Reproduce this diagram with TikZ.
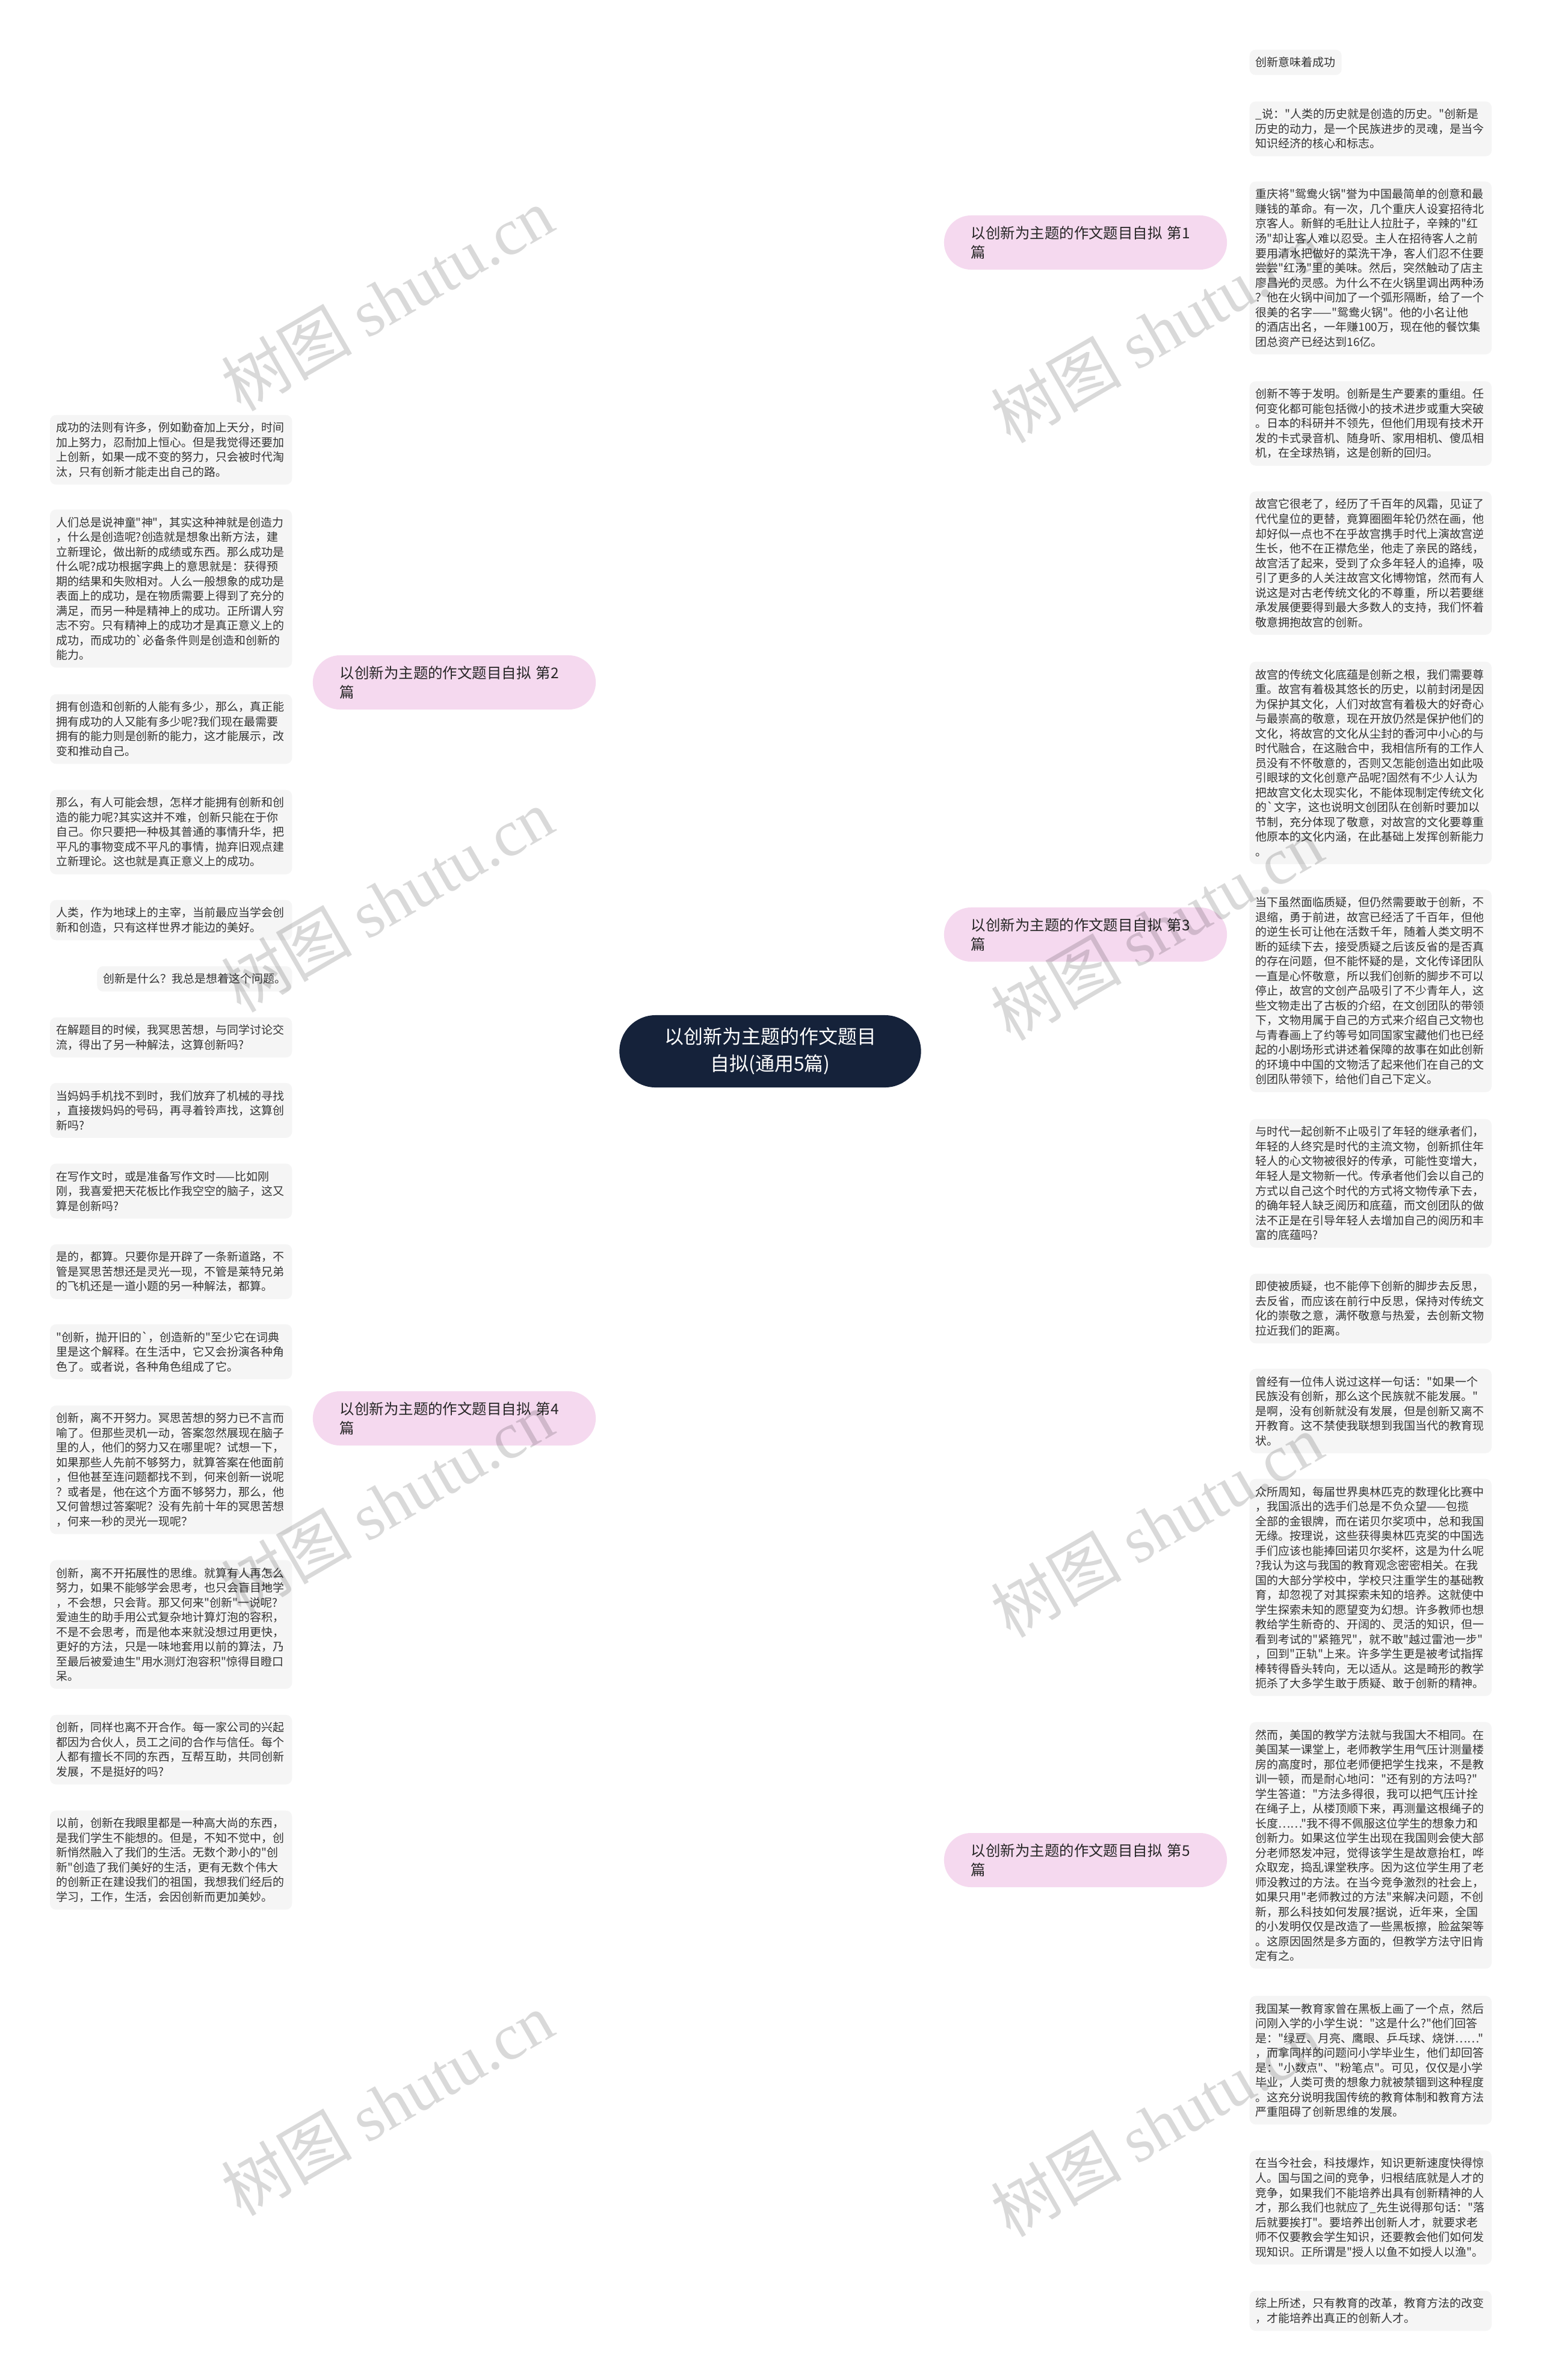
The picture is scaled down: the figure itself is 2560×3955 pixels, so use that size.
\documentclass[tikz,border=0pt]{standalone}
\usepackage{fontspec}
\newfontfamily\cjk{Noto Sans CJK SC}
\newfontfamily\wmserif{Liberation Serif}
\usetikzlibrary{backgrounds}

\definecolor{rootfill}{HTML}{15223A}
\definecolor{topicfill}{HTML}{F5D9EF}
\definecolor{leaffill}{HTML}{F5F5F5}
\definecolor{leaftext}{HTML}{333333}
\definecolor{linkcol}{HTML}{1B2638}

\tikzset{
  rootnode/.style={fill=rootfill, text=white, rounded corners=0.6cm, minimum width=5.01cm,
    minimum height=1.2cm, align=center, font=\cjk\fontsize{9.1pt}{12.8pt}\selectfont},
  topic/.style={fill=topicfill, text=black!85, rounded corners=0.45cm, text width=3.8cm,
    inner xsep=0.45cm, inner ysep=0pt, minimum height=0.9cm, align=left,
    font=\cjk\fontsize{6.95pt}{9.1pt}\selectfont},
  leaf/.style={fill=leaffill, text=leaftext, rounded corners=0.1cm, inner xsep=0.1cm,
    inner ysep=0pt, align=left, minimum height={0.245cm*#1+0.175cm},
    font=\cjk\fontsize{5.4pt}{6.97pt}\selectfont},
  leafw/.style={leaf=#1, text width=3.82cm},
  trunk/.style={draw=linkcol, line width=0.85pt},
  twig/.style={draw=linkcol, line width=0.7pt},
  wmark/.style={text=black, text opacity=0.15, rotate=30, font=\cjk\fontsize{31pt}{31pt}\selectfont},
}

\begin{document}
\begin{tikzpicture}[x=0.01cm, y=-0.01cm]
  \fill[white] (0,0) rectangle (2560,3955);
  \useasboundingbox (0,0) rectangle (2560,3955);

  % centre and the five topics
  \node[rootnode] (root) at (1280,1747) {以创新为主题的作文题目\\自拟(通用5篇)};
  \node[topic] (b1) at (1804,403) {以创新为主题的作文题目自拟 第1\\篇};
  \node[topic] (b2) at (755,1134) {以创新为主题的作文题目自拟 第2\\篇};
  \node[topic] (b3) at (1804,1553) {以创新为主题的作文题目自拟 第3\\篇};
  \node[topic] (b4) at (755,2357) {以创新为主题的作文题目自拟 第4\\篇};
  \node[topic] (b5) at (1804,3091) {以创新为主题的作文题目自拟 第5\\篇};

  % right column
  \node[leaf=1, anchor=north west] (r1) at (2076,82) {创新意味着成功};
  \node[leafw=3, anchor=north west] (r2) at (2076,168) {\_说："人类的历史就是创造的历史。"创新是\\
历史的动力，是一个民族进步的灵魂，是当今\\
知识经济的核心和标志。};
  \node[leafw=11, anchor=north west] (r3) at (2076,301) {重庆将"鸳鸯火锅"誉为中国最简单的创意和最\\
赚钱的革命。有一次，几个重庆人设宴招待北\\
京客人。新鲜的毛肚让人拉肚子，辛辣的"红\\
汤"却让客人难以忍受。主人在招待客人之前\\
要用清水把做好的菜洗干净，客人们忍不住要\\
尝尝"红汤"里的美味。然后，突然触动了店主\\
廖昌光的灵感。为什么不在火锅里调出两种汤\\
？他在火锅中间加了一个弧形隔断，给了一个\\
很美的名字——"鸳鸯火锅"。他的小名让他\\
的酒店出名，一年赚100万，现在他的餐饮集\\
团总资产已经达到16亿。};
  \node[leafw=5, anchor=north west] (r4) at (2076,633) {创新不等于发明。创新是生产要素的重组。任\\
何变化都可能包括微小的技术进步或重大突破\\
。日本的科研并不领先，但他们用现有技术开\\
发的卡式录音机、随身听、家用相机、傻瓜相\\
机，在全球热销，这是创新的回归。};
  \node[leafw=9, anchor=north west] (r5) at (2076,816) {故宫它很老了，经历了千百年的风霜，见证了\\
代代皇位的更替，竟算圈圈年轮仍然在画，他\\
却好似一点也不在乎故宫携手时代上演故宫逆\\
生长，他不在正襟危坐，他走了亲民的路线，\\
故宫活了起来，受到了众多年轻人的追捧，吸\\
引了更多的人关注故宫文化博物馆，然而有人\\
说这是对古老传统文化的不尊重，所以若要继\\
承发展便要得到最大多数人的支持，我们怀着\\
敬意拥抱故宫的创新。};
  \node[leafw=13, anchor=north west] (r6) at (2076,1099) {故宫的传统文化底蕴是创新之根，我们需要尊\\
重。故宫有着极其悠长的历史，以前封闭是因\\
为保护其文化，人们对故宫有着极大的好奇心\\
与最崇高的敬意，现在开放仍然是保护他们的\\
文化，将故宫的文化从尘封的香河中小心的与\\
时代融合，在这融合中，我相信所有的工作人\\
员没有不怀敬意的，否则又怎能创造出如此吸\\
引眼球的文化创意产品呢?固然有不少人认为\\
把故宫文化太现实化，不能体现制定传统文化\\
的`文字，这也说明文创团队在创新时要加以\\
节制，充分体现了敬意，对故宫的文化要尊重\\
他原本的文化内涵，在此基础上发挥创新能力\\
。};
  \node[leafw=13, anchor=north west] (r7) at (2076,1478) {当下虽然面临质疑，但仍然需要敢于创新，不\\
退缩，勇于前进，故宫已经活了千百年，但他\\
的逆生长可让他在活数千年，随着人类文明不\\
断的延续下去，接受质疑之后该反省的是否真\\
的存在问题，但不能怀疑的是，文化传译团队\\
一直是心怀敬意，所以我们创新的脚步不可以\\
停止，故宫的文创产品吸引了不少青年人，这\\
些文物走出了古板的介绍，在文创团队的带领\\
下，文物用属于自己的方式来介绍自己文物也\\
与青春画上了约等号如同国家宝藏他们也已经\\
起的小剧场形式讲述着保障的故事在如此创新\\
的环境中中国的文物活了起来他们在自己的文\\
创团队带领下，给他们自己下定义。};
  \node[leafw=8, anchor=north west] (r8) at (2076,1859) {与时代一起创新不止吸引了年轻的继承者们，\\
年轻的人终究是时代的主流文物，创新抓住年\\
轻人的心文物被很好的传承，可能性变增大，\\
年轻人是文物新一代。传承者他们会以自己的\\
方式以自己这个时代的方式将文物传承下去，\\
的确年轻人缺乏阅历和底蕴，而文创团队的做\\
法不正是在引导年轻人去增加自己的阅历和丰\\
富的底蕴吗?};
  \node[leafw=4, anchor=north west] (r9) at (2076,2116) {即使被质疑，也不能停下创新的脚步去反思，\\
去反省，而应该在前行中反思，保持对传统文\\
化的崇敬之意，满怀敬意与热爱，去创新文物\\
拉近我们的距离。};
  \node[leafw=5, anchor=north west] (r10) at (2076,2274) {曾经有一位伟人说过这样一句话："如果一个\\
民族没有创新，那么这个民族就不能发展。"\\
是啊，没有创新就没有发展，但是创新又离不\\
开教育。这不禁使我联想到我国当代的教育现\\
状。};
  \node[leafw=14, anchor=north west] (r11) at (2076,2457) {众所周知，每届世界奥林匹克的数理化比赛中\\
，我国派出的选手们总是不负众望——包揽\\
全部的金银牌，而在诺贝尔奖项中，总和我国\\
无缘。按理说，这些获得奥林匹克奖的中国选\\
手们应该也能捧回诺贝尔奖杯，这是为什么呢\\
?我认为这与我国的教育观念密密相关。在我\\
国的大部分学校中，学校只注重学生的基础教\\
育，却忽视了对其探索未知的培养。这就使中\\
学生探索未知的愿望变为幻想。许多教师也想\\
教给学生新奇的、开阔的、灵活的知识，但一\\
看到考试的"紧箍咒"，就不敢"越过雷池一步"\\
，回到"正轨"上来。许多学生更是被考试指挥\\
棒转得昏头转向，无以适从。这是畸形的教学\\
扼杀了大多学生敢于质疑、敢于创新的精神。};
  \node[leafw=16, anchor=north west] (r12) at (2076,2861) {然而，美国的教学方法就与我国大不相同。在\\
美国某一课堂上，老师教学生用气压计测量楼\\
房的高度时，那位老师便把学生找来，不是教\\
训一顿，而是耐心地问："还有别的方法吗?"\\
学生答道："方法多得很，我可以把气压计拴\\
在绳子上，从楼顶顺下来，再测量这根绳子的\\
长度……"我不得不佩服这位学生的想象力和\\
创新力。如果这位学生出现在我国则会使大部\\
分老师怒发冲冠，觉得该学生是故意抬杠，哗\\
众取宠，捣乱课堂秩序。因为这位学生用了老\\
师没教过的方法。在当今竞争激烈的社会上，\\
如果只用"老师教过的方法"来解决问题，不创\\
新，那么科技如何发展?据说，近年来，全国\\
的小发明仅仅是改造了一些黑板擦，脸盆架等\\
。这原因固然是多方面的，但教学方法守旧肯\\
定有之。};
  \node[leafw=8, anchor=north west] (r13) at (2076,3316) {我国某一教育家曾在黑板上画了一个点，然后\\
问刚入学的小学生说："这是什么?"他们回答\\
是："绿豆、月亮、鹰眼、乒乓球、烧饼……"\\
，而拿同样的问题问小学毕业生，他们却回答\\
是："小数点"、"粉笔点"。可见，仅仅是小学\\
毕业，人类可贵的想象力就被禁锢到这种程度\\
。这充分说明我国传统的教育体制和教育方法\\
严重阻碍了创新思维的发展。};
  \node[leafw=7, anchor=north west] (r14) at (2076,3573) {在当今社会，科技爆炸，知识更新速度快得惊\\
人。国与国之间的竞争，归根结底就是人才的\\
竞争，如果我们不能培养出具有创新精神的人\\
才，那么我们也就应了\_先生说得那句话："落\\
后就要挨打"。要培养出创新人才，就要求老\\
师不仅要教会学生知识，还要教会他们如何发\\
现知识。正所谓是"授人以鱼不如授人以渔"。};
  \node[leafw=2, anchor=north west] (r15) at (2076,3806) {综上所述，只有教育的改革，教育方法的改变\\
，才能培养出真正的创新人才。};

  % left column
  \node[leafw=4, anchor=north east] (l1) at (486,689) {成功的法则有许多，例如勤奋加上天分，时间\\
加上努力，忍耐加上恒心。但是我觉得还要加\\
上创新，如果一成不变的努力，只会被时代淘\\
汰，只有创新才能走出自己的路。};
  \node[leafw=10, anchor=north east] (l2) at (486,846) {人们总是说神童"神"，其实这种神就是创造力\\
，什么是创造呢?创造就是想象出新方法，建\\
立新理论，做出新的成绩或东西。那么成功是\\
什么呢?成功根据字典上的意思就是：获得预\\
期的结果和失败相对。人么一般想象的成功是\\
表面上的成功，是在物质需要上得到了充分的\\
满足，而另一种是精神上的成功。正所谓人穷\\
志不穷。只有精神上的成功才是真正意义上的\\
成功，而成功的`必备条件则是创造和创新的\\
能力。};
  \node[leafw=4, anchor=north east] (l3) at (486,1153) {拥有创造和创新的人能有多少，那么，真正能\\
拥有成功的人又能有多少呢?我们现在最需要\\
拥有的能力则是创新的能力，这才能展示，改\\
变和推动自己。};
  \node[leafw=5, anchor=north east] (l4) at (486,1312) {那么，有人可能会想，怎样才能拥有创新和创\\
造的能力呢?其实这并不难，创新只能在于你\\
自己。你只要把一种极其普通的事情升华，把\\
平凡的事物变成不平凡的事情，抛弃旧观点建\\
立新理论。这也就是真正意义上的成功。};
  \node[leafw=2, anchor=north east] (l5) at (486,1495) {人类，作为地球上的主宰，当前最应当学会创\\
新和创造，只有这样世界才能边的美好。};
  \node[leaf=1, anchor=north east] (l6) at (486,1605) {创新是什么？我总是想着这个问题。};
  \node[leafw=2, anchor=north east] (l7) at (486,1690) {在解题目的时候，我冥思苦想，与同学讨论交\\
流，得出了另一种解法，这算创新吗?};
  \node[leafw=3, anchor=north east] (l8) at (486,1799) {当妈妈手机找不到时，我们放弃了机械的寻找\\
，直接拨妈妈的号码，再寻着铃声找，这算创\\
新吗?};
  \node[leafw=3, anchor=north east] (l9) at (486,1933) {在写作文时，或是准备写作文时——比如刚\\
刚，我喜爱把天花板比作我空空的脑子，这又\\
算是创新吗?};
  \node[leafw=3, anchor=north east] (l10) at (486,2067) {是的，都算。只要你是开辟了一条新道路，不\\
管是冥思苦想还是灵光一现，不管是莱特兄弟\\
的飞机还是一道小题的另一种解法，都算。};
  \node[leafw=3, anchor=north east] (l11) at (486,2200) {"创新，抛开旧的`，创造新的"至少它在词典\\
里是这个解释。在生活中，它又会扮演各种角\\
色了。或者说，各种角色组成了它。};
  \node[leafw=8, anchor=north east] (l12) at (486,2335) {创新，离不开努力。冥思苦想的努力已不言而\\
喻了。但那些灵机一动，答案忽然展现在脑子\\
里的人，他们的努力又在哪里呢？试想一下，\\
如果那些人先前不够努力，就算答案在他面前\\
，但他甚至连问题都找不到，何来创新一说呢\\
？或者是，他在这个方面不够努力，那么，他\\
又何曾想过答案呢？没有先前十年的冥思苦想\\
，何来一秒的灵光一现呢？};
  \node[leafw=8, anchor=north east] (l13) at (486,2592) {创新，离不开拓展性的思维。就算有人再怎么\\
努力，如果不能够学会思考，也只会盲目地学\\
，不会想，只会背。那又何来"创新"一说呢?\\
爱迪生的助手用公式复杂地计算灯泡的容积，\\
不是不会思考，而是他本来就没想过用更快，\\
更好的方法，只是一味地套用以前的算法，乃\\
至最后被爱迪生"用水测灯泡容积"惊得目瞪口\\
呆。};
  \node[leafw=4, anchor=north east] (l14) at (486,2849) {创新，同样也离不开合作。每一家公司的兴起\\
都因为合伙人，员工之间的合作与信任。每个\\
人都有擅长不同的东西，互帮互助，共同创新\\
发展，不是挺好的吗?};
  \node[leafw=6, anchor=north east] (l15) at (486,3008) {以前，创新在我眼里都是一种高大尚的东西，\\
是我们学生不能想的。但是，不知不觉中，创\\
新悄然融入了我们的生活。无数个渺小的"创\\
新"创造了我们美好的生活，更有无数个伟大\\
的创新正在建设我们的祖国，我想我们经后的\\
学习，工作，生活，会因创新而更加美妙。};

  \begin{scope}[on background layer]
    % centre to topics
    \draw[trunk] (root.center) .. controls +(0,-1000) and +(-240,0) .. (b1.west);
    \draw[trunk] (root.center) .. controls +(0,-140) and +(-240,0) .. (b3.west);
    \draw[trunk] (root.center) .. controls +(0,1000) and +(-240,0) .. (b5.west);
    \draw[trunk] (root.center) .. controls +(0,-450) and +(240,0) .. (b2.east);
    \draw[trunk] (root.center) .. controls +(0,450) and +(240,0) .. (b4.east);
    % topics to leaves
    \foreach \l in {r1,r2,r3,r4}
      \draw[twig] (b1.east) .. controls +(20,0) and +(-18,0) .. (\l.west);
    \foreach \l in {r5,r6,r7,r8,r9}
      \draw[twig] (b3.east) .. controls +(20,0) and +(-18,0) .. (\l.west);
    \foreach \l in {r10,r11,r12,r13,r14,r15}
      \draw[twig] (b5.east) .. controls +(20,0) and +(-18,0) .. (\l.west);
    \foreach \l in {l1,l2,l3,l4,l5}
      \draw[twig] (b2.west) .. controls +(-18,0) and +(18,0) .. (\l.east);
    \foreach \l in {l6,l7,l8,l9,l10,l11,l12,l13,l14,l15}
      \draw[twig] (b4.west) .. controls +(-18,0) and +(18,0) .. (\l.east);
  \end{scope}

  % watermarks
  \foreach \wx/\wy [count=\i] in {643/497,643/1496,643/2497,643/3496,1922/550,1922/1543,1922/2535,1922/3531}
    \node[wmark] (wm\i) at (\wx,\wy) {树图 {\wmserif shutu.cn}};
\end{tikzpicture}
\end{document}
